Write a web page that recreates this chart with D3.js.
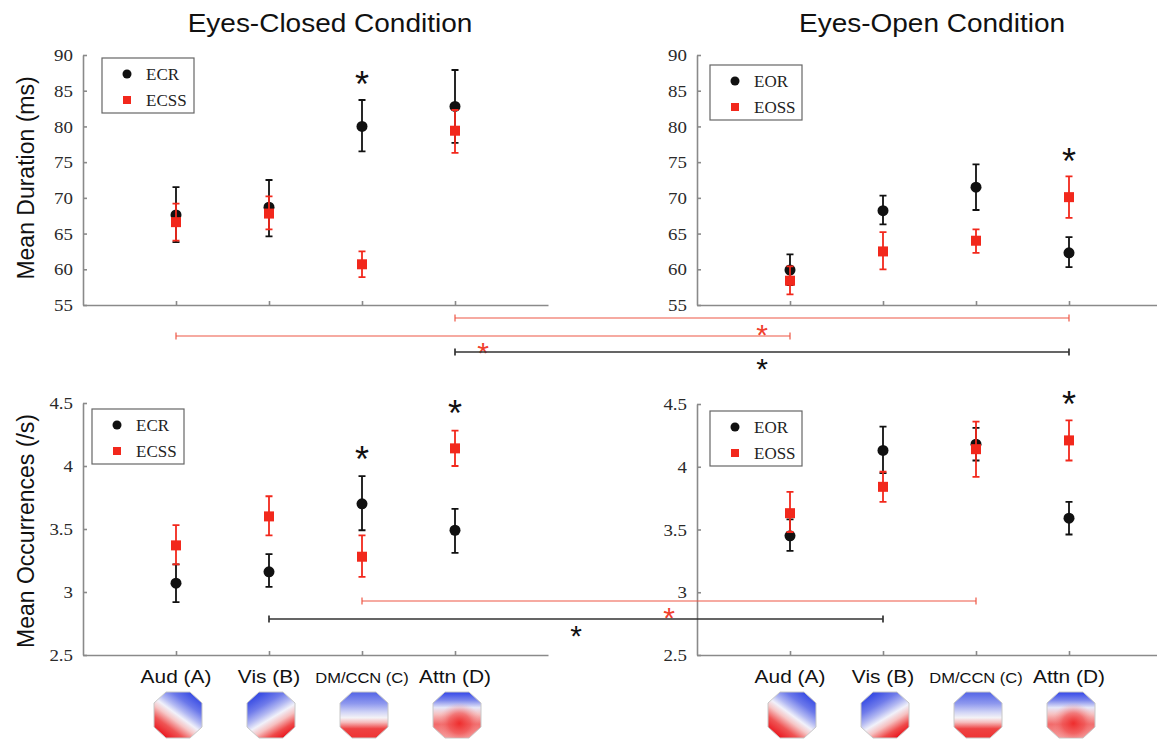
<!DOCTYPE html>
<html>
<head>
<meta charset="utf-8">
<script src="https://cdn.jsdelivr.net/npm/d3@7"></script>
<style>
body { margin: 0; background: #fff; }
svg { display: block; }
.axis path, .axis line { stroke: #8a8a8a; stroke-width: 1.6; fill: none; }
.axis text { font-family: "Liberation Serif", serif; font-size: 17.5px; fill: #2a2a2a; }
.legend text { font-family: "Liberation Serif", serif; font-size: 17px; fill: #222; }
</style>
</head>
<body>
<svg id="chart" width="1157" height="740"></svg>
<script>
"use strict";

var categories = ["Aud (A)", "Vis (B)", "DM/CCN (C)", "Attn (D)"];
var durationTicks = [55, 60, 65, 70, 75, 80, 85, 90];
var occurrenceTicks = [2.5, 3, 3.5, 4, 4.5];

// mean duration (ms): means and error bar ends per category
var ecrDur = [67.6, 68.7, 80.0, 82.8];
var ecrDurLow = [63.8, 64.6, 76.5, 77.7];
var ecrDurHigh = [71.5, 72.5, 83.7, 87.9];
var ecssDur = [66.6, 67.8, 60.7, 79.4];
var ecssDurLow = [64.0, 65.6, 58.9, 76.3];
var ecssDurHigh = [69.2, 70.2, 62.5, 82.3];
var eorDur = [59.9, 68.2, 71.5, 62.3];
var eorDurLow = [57.8, 66.3, 68.3, 60.3];
var eorDurHigh = [62.1, 70.3, 74.7, 64.5];
var eossDur = [58.4, 62.5, 64.0, 70.1];
var eossDurLow = [56.5, 60.0, 62.3, 67.2];
var eossDurHigh = [60.4, 65.2, 65.6, 73.0];

// mean occurrences (/s)
var ecrOcc = [3.07, 3.16, 3.70, 3.49];
var ecrOccLow = [2.92, 3.04, 3.49, 3.31];
var ecrOccHigh = [3.22, 3.30, 3.92, 3.66];
var ecssOcc = [3.37, 3.60, 3.28, 4.14];
var ecssOccLow = [3.22, 3.45, 3.12, 4.00];
var ecssOccHigh = [3.53, 3.76, 3.45, 4.28];
var eorOcc = [3.45, 4.13, 4.18, 3.59];
var eorOccLow = [3.33, 3.95, 4.05, 3.46];
var eorOccHigh = [3.58, 4.32, 4.31, 3.72];
var eossOcc = [3.63, 3.84, 4.14, 4.21];
var eossOccLow = [3.48, 3.72, 3.92, 4.05];
var eossOccHigh = [3.80, 3.96, 4.36, 4.37];

// significance stars inside the panels: [category index, value]
var ecDurStars = [[2, 87.0]];
var eoDurStars = [[3, 76.3]];
var ecOccStars = [[2, 4.12], [3, 4.48]];
var eoOccStars = [[3, 4.56]];

// between-condition comparisons: [panel, category] -> [panel, category]
var durComparisons = [
  { from: ["ecDur", 3], to: ["eoDur", 3], color: "red" },
  { from: ["ecDur", 0], to: ["eoDur", 0], color: "red" },
  { from: ["ecDur", 3], to: ["eoDur", 3], color: "black" }
];
var occComparisons = [
  { from: ["ecOcc", 2], to: ["eoOcc", 2], color: "red" },
  { from: ["ecOcc", 1], to: ["eoOcc", 1], color: "black" }
];

var RED = "#f2281c", BLACK = "#111";
var svg = d3.select("#chart");

var panels = [
  { id: "ecDur", left: 83, top: 55, bottom: 305, domain: [55, 90], ticks: durationTicks,
    names: ["ECR", "ECSS"], black: [ecrDur, ecrDurLow, ecrDurHigh], red: [ecssDur, ecssDurLow, ecssDurHigh],
    stars: ecDurStars, legend: [102, 58], labels: false },
  { id: "eoDur", left: 697, top: 55, bottom: 305, domain: [55, 90], ticks: durationTicks,
    names: ["EOR", "EOSS"], black: [eorDur, eorDurLow, eorDurHigh], red: [eossDur, eossDurLow, eossDurHigh],
    stars: eoDurStars, legend: [710, 65], labels: false },
  { id: "ecOcc", left: 83, top: 403, bottom: 655, domain: [2.5, 4.5], ticks: occurrenceTicks,
    names: ["ECR", "ECSS"], black: [ecrOcc, ecrOccLow, ecrOccHigh], red: [ecssOcc, ecssOccLow, ecssOccHigh],
    stars: ecOccStars, legend: [92, 409], labels: true },
  { id: "eoOcc", left: 697, top: 404, bottom: 655, domain: [2.5, 4.5], ticks: occurrenceTicks,
    names: ["EOR", "EOSS"], black: [eorOcc, eorOccLow, eorOccHigh], red: [eossOcc, eossOccLow, eossOccHigh],
    stars: eoOccStars, legend: [710, 411], labels: true }
];

//sans text slightly stretched sideways like the reference figure
function sansText(g, x, y, str, size, stretch) {
  return g.append("text")
    .attr("transform", "translate(" + x + "," + y + ") scale(" + stretch + ",1)")
    .attr("text-anchor", "middle")
    .style("font-family", "'Liberation Sans', Arial, sans-serif")
    .style("font-size", size + "px")
    .style("fill", "#111")
    .text(str);
}

//asterisk centred on (cx, cy)
function star(g, cx, cy, size, color) {
  g.append("text")
    .attr("x", cx).attr("y", cy + 0.58 * size)
    .attr("text-anchor", "middle")
    .style("font-family", "'Liberation Sans', Arial, sans-serif")
    .style("font-size", size + "px")
    .style("fill", color)
    .text("*");
}

var scales = {};

panels.forEach(function (p) {
  var x = d3.scaleLinear().domain([0, 5]).range([p.left, p.left + 465]);
  var y = d3.scaleLinear().domain(p.domain).range([p.bottom, p.top]);
  scales[p.id] = { x: x, y: y };
  var g = svg.append("g").attr("id", p.id);

  g.append("g").attr("class", "axis")
    .attr("transform", "translate(0," + p.bottom + ")")
    .call(d3.axisBottom(x).tickValues([1, 2, 3, 4]).tickSize(-4).tickSizeOuter(0).tickFormat(""));

  var yAxis = g.append("g").attr("class", "axis")
    .attr("transform", "translate(" + p.left + ",0)")
    .call(d3.axisLeft(y).tickValues(p.ticks).tickSize(-4).tickSizeOuter(0).tickPadding(10).tickFormat(function (d) { return d; }));
  yAxis.selectAll("text").attr("transform", "scale(1.08,1)").attr("x", -10 / 1.08);

  //error bars, black series then red on top
  [[p.black, BLACK], [p.red, RED]].forEach(function (s) {
    var m = s[0][0], lo = s[0][1], hi = s[0][2];
    g.selectAll(null).data(d3.range(categories.length)).enter().append("path")
      .attr("d", function (i) {
        var cx = x(i + 1), y1 = y(hi[i]), y2 = y(lo[i]);
        return "M" + cx + "," + y1 + "V" + y2 + "M" + (cx - 3.5) + "," + y1 + "H" + (cx + 3.5) + "M" + (cx - 3.5) + "," + y2 + "H" + (cx + 3.5);
      })
      .attr("stroke", s[1]).attr("stroke-width", 1.8).attr("fill", "none");
    if (s[1] === BLACK) {
      g.selectAll(null).data(m).enter().append("circle")
        .attr("cx", function (d, i) { return x(i + 1); })
        .attr("cy", function (d) { return y(d); })
        .attr("r", 5.5).attr("fill", BLACK);
    } else {
      g.selectAll(null).data(m).enter().append("rect")
        .attr("x", function (d, i) { return x(i + 1) - 5; })
        .attr("y", function (d) { return y(d) - 5; })
        .attr("width", 10).attr("height", 10).attr("fill", RED);
    }
  });

  p.stars.forEach(function (s) { star(g, x(s[0] + 1), y(s[1]), 36, BLACK); });

  //legend
  var lg = g.append("g").attr("class", "legend").attr("transform", "translate(" + p.legend[0] + "," + p.legend[1] + ")");
  lg.append("rect").attr("width", 92).attr("height", 55).attr("fill", "#fff").attr("stroke", "#666").attr("stroke-width", 1.2);
  lg.append("circle").attr("cx", 25).attr("cy", 16).attr("r", 4.5).attr("fill", BLACK);
  lg.append("rect").attr("x", 21).attr("y", 38).attr("width", 8).attr("height", 8).attr("fill", RED);
  lg.append("text").attr("x", 44).attr("y", 22).text(p.names[0]);
  lg.append("text").attr("x", 44).attr("y", 48).text(p.names[1]);

  if (p.labels) {
    categories.forEach(function (c, i) {
      var small = c.indexOf("DM") === 0;
      sansText(g, x(i + 1), 683, c, small ? 15 : 19, 1.1);
    });
  }
});

//titles and y labels
sansText(svg, 330, 32, "Eyes-Closed Condition", 25, 1.12);
sansText(svg, 932, 32, "Eyes-Open Condition", 25, 1.12);
svg.append("text").attr("transform", "translate(34,178) rotate(-90)").attr("text-anchor", "middle")
  .style("font-family", "'Liberation Sans', Arial, sans-serif").style("font-size", "23px").style("fill", "#111")
  .text("Mean Duration (ms)");
svg.append("text").attr("transform", "translate(34,531) rotate(-90)").attr("text-anchor", "middle")
  .style("font-family", "'Liberation Sans', Arial, sans-serif").style("font-size", "23px").style("fill", "#111")
  .text("Mean Occurrences (/s)");

//comparison brackets between the two conditions
function drawComparisons(list, rowsY) {
  list.forEach(function (c, k) {
    var x1 = scales[c.from[0]].x(c.from[1] + 1);
    var x2 = scales[c.to[0]].x(c.to[1] + 1);
    var yy = rowsY[k];
    var col = c.color === "red" ? "#ee5644" : "#333";
    svg.append("path")
      .attr("d", "M" + x1 + "," + yy + "H" + x2 + "M" + x1 + "," + (yy - 3.5) + "V" + (yy + 3.5) + "M" + x2 + "," + (yy - 3.5) + "V" + (yy + 3.5))
      .attr("stroke", col).attr("stroke-width", c.color === "red" ? 1.2 : 1.7).attr("fill", "none");
    star(svg, (x1 + x2) / 2, yy + 10, 30, c.color === "red" ? "#f0402e" : BLACK);
  });
}
drawComparisons(durComparisons, [318, 336, 352]);
drawComparisons(occComparisons, [601, 619]);

//scalp topography thumbnails under each category: a base gradient plus an optional red blob
var mapGradients = [
  { x1: 0.85, y1: 0.1, x2: 0.2, y2: 0.95, stops: [[0, "#3c4fe4"], [0.2, "#6b78ea"], [0.38, "#b4baf3"], [0.5, "#f1f1fa"], [0.62, "#f6c6c6"], [0.8, "#ef5454"], [1, "#ea1a22"]] },
  { x1: 0.2, y1: 0.1, x2: 0.75, y2: 0.98, stops: [[0, "#3c4fe4"], [0.22, "#6f7bea"], [0.4, "#b2b8f2"], [0.54, "#f1f1fa"], [0.68, "#f6c0c0"], [0.86, "#ef4a4a"], [1, "#ea1a22"]] },
  { x1: 0.5, y1: 0, x2: 0.5, y2: 1, stops: [[0, "#5263e6"], [0.25, "#8e98ee"], [0.45, "#d4d7f6"], [0.56, "#f4f2f6"], [0.66, "#f6bcbc"], [0.8, "#ee4242"], [1, "#ee3434"]] },
  { x1: 0.5, y1: 0, x2: 0.5, y2: 1, stops: [[0, "#3245e8"], [0.18, "#7d88ec"], [0.34, "#e6e7f8"], [0.48, "#f6c2c2"], [0.7, "#f26a6a"], [1, "#f5a0a0"]], blob: [0.55, 0.68] }
];
var defs = svg.append("defs");
["ecOcc", "eoOcc"].forEach(function (pid) {
  var x = scales[pid].x;
  mapGradients.forEach(function (mg, i) {
    var gid = "map-" + pid + "-" + i;
    var lg = defs.append("linearGradient").attr("id", gid)
      .attr("x1", mg.x1).attr("y1", mg.y1).attr("x2", mg.x2).attr("y2", mg.y2);
    mg.stops.forEach(function (s) { lg.append("stop").attr("offset", s[0]).attr("stop-color", s[1]); });
    var cx = x(i + 1) + 2, t = 692, b = 738;
    var pts = [[cx - 12, t], [cx + 12, t], [cx + 24, t + 11], [cx + 24, b - 11], [cx + 12, b], [cx - 12, b], [cx - 24, b - 11], [cx - 24, t + 11]];
    var ptsStr = pts.map(function (q) { return q.join(","); }).join(" ");
    svg.append("polygon").attr("points", ptsStr)
      .attr("fill", "url(#" + gid + ")").attr("stroke", "#c8c8c8").attr("stroke-width", 1);
    if (mg.blob) {
      var rg = defs.append("radialGradient").attr("id", gid + "-blob")
        .attr("cx", mg.blob[0]).attr("cy", mg.blob[1]).attr("r", 0.45);
      rg.append("stop").attr("offset", 0).attr("stop-color", "#ee2a2a").attr("stop-opacity", 0.95);
      rg.append("stop").attr("offset", 0.5).attr("stop-color", "#ef4848").attr("stop-opacity", 0.6);
      rg.append("stop").attr("offset", 1).attr("stop-color", "#f3a0a0").attr("stop-opacity", 0);
      svg.append("polygon").attr("points", ptsStr).attr("fill", "url(#" + gid + "-blob)");
    }
  });
});
</script>
</body>
</html>
